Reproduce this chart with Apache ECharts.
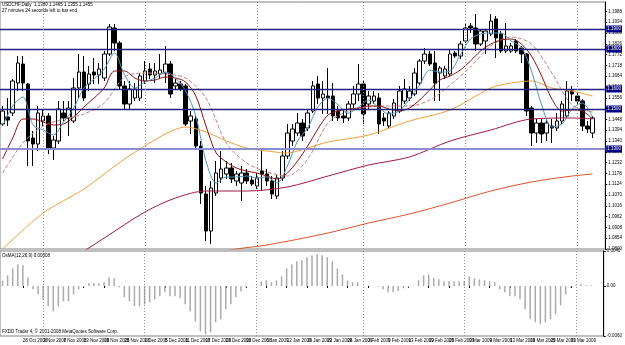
<!DOCTYPE html>
<html>
<head>
<meta charset="utf-8">
<style>
  html, body { margin: 0; padding: 0; background: #fff; }
  #chart { width: 625px; height: 345px; }
</style>
<script src="https://cdn.jsdelivr.net/npm/echarts@6/dist/echarts.min.js"></script>
</head>
<body>
<div id="chart"></div>
<script>
// trading days shown on the chart, month by month
const dayLists = [
  ['Oct 2008', [22, 23, 24, 27, 28, 29, 30, 31]],
  ['Nov 2008', [3, 4, 5, 6, 7, 10, 11, 12, 13, 14, 17, 18, 19, 20, 21, 24, 25, 26, 27, 28]],
  ['Dec 2008', [1, 2, 3, 4, 5, 8, 9, 10, 11, 12, 15, 16, 17, 18, 19, 22, 23, 24, 26, 29, 30, 31]],
  ['Jan 2009', [2, 5, 6, 7, 8, 9, 12, 13, 14, 15, 16, 19, 20, 21, 22, 23, 26, 27, 28, 29, 30]],
  ['Feb 2009', [2, 3, 4, 5, 6, 9, 10, 11, 12, 13, 16, 17, 18, 19, 20, 23, 24, 25, 26, 27]],
  ['Mar 2009', [2, 3, 4, 5, 6, 9, 10, 11, 12, 13, 16, 17, 18, 19, 20, 23, 24, 25, 26, 27, 30, 31]],
  ['Apr 2009', [1, 2, 3, 6]]
];
const monthStarts = ['3 Nov 2008', '1 Dec 2008', '2 Jan 2009', '2 Feb 2009', '2 Mar 2009', '1 Apr 2009'];

// open, close, low, high
const candles = [
  [1.1425, 1.1490, 1.1415, 1.1515], [1.1460, 1.1445, 1.1415, 1.1555], [1.1480, 1.1640, 1.1465, 1.1650],
  [1.1630, 1.1730, 1.1590, 1.1765], [1.1725, 1.1630, 1.1590, 1.1765], [1.1625, 1.1340, 1.1215, 1.1630],
  [1.1355, 1.1325, 1.1215, 1.1390], [1.1325, 1.1480, 1.1290, 1.1515], [1.1440, 1.1465, 1.1415, 1.1500],
  [1.1465, 1.1305, 1.1275, 1.1480], [1.1305, 1.1345, 1.1245, 1.1365], [1.1340, 1.1500, 1.1325, 1.1540],
  [1.1480, 1.1455, 1.1440, 1.1540], [1.1455, 1.1505, 1.1365, 1.1540], [1.1440, 1.1605, 1.1430, 1.1655],
  [1.1605, 1.1685, 1.1555, 1.1775], [1.1685, 1.1555, 1.1540, 1.1765], [1.1625, 1.1675, 1.1590, 1.1715],
  [1.1685, 1.1670, 1.1625, 1.1755], [1.1670, 1.1700, 1.1625, 1.1730], [1.1655, 1.1775, 1.1640, 1.1790],
  [1.1775, 1.1910, 1.1765, 1.1925], [1.1905, 1.1830, 1.1790, 1.1925], [1.1830, 1.1615, 1.1600, 1.1840],
  [1.1615, 1.1525, 1.1500, 1.1640], [1.1525, 1.1600, 1.1500, 1.1640], [1.1555, 1.1600, 1.1540, 1.1630],
  [1.1555, 1.1665, 1.1540, 1.1680], [1.1640, 1.1690, 1.1625, 1.1740], [1.1700, 1.1670, 1.1650, 1.1730],
  [1.1670, 1.1690, 1.1630, 1.1730], [1.1675, 1.1695, 1.1650, 1.1775], [1.1680, 1.1725, 1.1630, 1.1815],
  [1.1725, 1.1575, 1.1555, 1.1740], [1.1615, 1.1630, 1.1600, 1.1650], [1.1625, 1.1600, 1.1590, 1.1640],
  [1.1615, 1.1425, 1.1415, 1.1625], [1.1440, 1.1465, 1.1375, 1.1490], [1.1450, 1.1315, 1.1300, 1.1465],
  [1.1315, 1.1080, 1.1025, 1.1340], [1.1075, 1.0890, 1.0840, 1.1115], [1.0890, 1.1105, 1.0825, 1.1140],
  [1.1080, 1.1180, 1.1065, 1.1240], [1.1155, 1.1200, 1.1130, 1.1290], [1.1175, 1.1205, 1.1150, 1.1240],
  [1.1205, 1.1150, 1.1130, 1.1230], [1.1140, 1.1175, 1.1115, 1.1190], [1.1130, 1.1180, 1.1040, 1.1215],
  [1.1180, 1.1140, 1.1125, 1.1200], [1.1145, 1.1125, 1.1115, 1.1165], [1.1115, 1.1155, 1.1100, 1.1180],
  [1.1190, 1.1175, 1.1090, 1.1305], [1.1175, 1.1140, 1.1115, 1.1200], [1.1140, 1.1075, 1.1050, 1.1165],
  [1.1065, 1.1155, 1.1050, 1.1175], [1.1155, 1.1265, 1.1140, 1.1290], [1.1265, 1.1380, 1.1250, 1.1425],
  [1.1340, 1.1400, 1.1315, 1.1425], [1.1380, 1.1430, 1.1365, 1.1480], [1.1430, 1.1365, 1.1340, 1.1450],
  [1.1405, 1.1480, 1.1390, 1.1500], [1.1490, 1.1615, 1.1480, 1.1640], [1.1625, 1.1555, 1.1525, 1.1665],
  [1.1555, 1.1575, 1.1475, 1.1640], [1.1565, 1.1555, 1.1475, 1.1705], [1.1565, 1.1465, 1.1440, 1.1630],
  [1.1490, 1.1455, 1.1440, 1.1515], [1.1465, 1.1455, 1.1430, 1.1500], [1.1455, 1.1525, 1.1440, 1.1540],
  [1.1525, 1.1575, 1.1505, 1.1615], [1.1575, 1.1625, 1.1540, 1.1725], [1.1625, 1.1475, 1.1425, 1.1640],
  [1.1525, 1.1565, 1.1500, 1.1590], [1.1540, 1.1565, 1.1525, 1.1590], [1.1555, 1.1425, 1.1375, 1.1580],
  [1.1455, 1.1440, 1.1415, 1.1480], [1.1415, 1.1480, 1.1400, 1.1490], [1.1465, 1.1530, 1.1450, 1.1550],
  [1.1490, 1.1590, 1.1480, 1.1615], [1.1540, 1.1600, 1.1525, 1.1650], [1.1555, 1.1590, 1.1540, 1.1615],
  [1.1575, 1.1680, 1.1565, 1.1705], [1.1630, 1.1740, 1.1620, 1.1750], [1.1740, 1.1775, 1.1725, 1.1805],
  [1.1775, 1.1725, 1.1715, 1.1790], [1.1730, 1.1630, 1.1540, 1.1790], [1.1680, 1.1705, 1.1540, 1.1715],
  [1.1665, 1.1700, 1.1650, 1.1715], [1.1675, 1.1775, 1.1665, 1.1800], [1.1780, 1.1765, 1.1755, 1.1790],
  [1.1765, 1.1825, 1.1750, 1.1840], [1.1840, 1.1905, 1.1830, 1.1925], [1.1915, 1.1905, 1.1880, 1.1930],
  [1.1905, 1.1825, 1.1790, 1.1975], [1.1825, 1.1890, 1.1815, 1.1900], [1.1840, 1.1890, 1.1775, 1.1900],
  [1.1875, 1.1940, 1.1865, 1.1975], [1.1950, 1.1855, 1.1755, 1.1965], [1.1875, 1.1790, 1.1780, 1.1890],
  [1.1790, 1.1815, 1.1780, 1.1930], [1.1790, 1.1815, 1.1780, 1.1830], [1.1840, 1.1790, 1.1780, 1.1850],
  [1.1805, 1.1775, 1.1730, 1.1815], [1.1775, 1.1490, 1.1465, 1.1780], [1.1505, 1.1380, 1.1315, 1.1515],
  [1.1380, 1.1430, 1.1330, 1.1450], [1.1430, 1.1375, 1.1330, 1.1450], [1.1380, 1.1430, 1.1340, 1.1450],
  [1.1415, 1.1405, 1.1330, 1.1450], [1.1405, 1.1440, 1.1390, 1.1480], [1.1440, 1.1525, 1.1425, 1.1540],
  [1.1465, 1.1590, 1.1455, 1.1640], [1.1590, 1.1575, 1.1540, 1.1615], [1.1565, 1.1540, 1.1525, 1.1580],
  [1.1540, 1.1415, 1.1390, 1.1550], [1.1415, 1.1400, 1.1380, 1.1440], [1.1380, 1.1455, 1.1355, 1.1465]
];

// moving averages: [bar index, price]
const maFast = [
  [0, 1.1415], [2, 1.1515], [4, 1.1560], [6, 1.1420], [8, 1.1395], [10, 1.1370], [12, 1.1435],
  [14, 1.1505], [16, 1.1605], [18, 1.1650], [20, 1.1700], [22, 1.1780], [24, 1.1670], [26, 1.1605],
  [28, 1.1635], [30, 1.1655], [32, 1.1685], [34, 1.1655], [36, 1.1590], [38, 1.1465], [40, 1.1240],
  [42, 1.1130], [44, 1.1160], [46, 1.1160], [48, 1.1165], [50, 1.1155], [52, 1.1160], [54, 1.1130],
  [56, 1.1215], [58, 1.1340], [60, 1.1405], [62, 1.1510], [64, 1.1555], [66, 1.1520], [68, 1.1480],
  [70, 1.1510], [72, 1.1545], [74, 1.1505], [76, 1.1475], [78, 1.1490], [80, 1.1550], [82, 1.1620],
  [84, 1.1695], [86, 1.1685], [88, 1.1690], [90, 1.1770], [92, 1.1850], [94, 1.1875], [96, 1.1880],
  [98, 1.1880], [100, 1.1840], [102, 1.1810], [104, 1.1690], [106, 1.1520], [108, 1.1410],
  [110, 1.1425], [112, 1.1500], [114, 1.1530], [116, 1.1460]
];
const maMid = [
  [0, 1.1250], [2, 1.1355], [4, 1.1450], [6, 1.1450], [8, 1.1435], [10, 1.1420], [12, 1.1425],
  [14, 1.1460], [16, 1.1510], [18, 1.1555], [20, 1.1605], [22, 1.1690], [24, 1.1690], [26, 1.1655],
  [28, 1.1640], [30, 1.1645], [32, 1.1660], [34, 1.1655], [36, 1.1635], [38, 1.1565], [40, 1.1415],
  [42, 1.1280], [44, 1.1235], [46, 1.1205], [48, 1.1190], [50, 1.1180], [52, 1.1165], [54, 1.1150],
  [56, 1.1180], [58, 1.1240], [60, 1.1315], [62, 1.1400], [64, 1.1470], [66, 1.1490], [68, 1.1500],
  [70, 1.1505], [72, 1.1515], [74, 1.1515], [76, 1.1500], [78, 1.1490], [80, 1.1505], [82, 1.1545],
  [84, 1.1595], [86, 1.1645], [88, 1.1665], [90, 1.1695], [92, 1.1740], [94, 1.1790], [96, 1.1825],
  [98, 1.1845], [100, 1.1850], [102, 1.1825], [104, 1.1765], [106, 1.1665], [108, 1.1550],
  [110, 1.1490], [112, 1.1495], [114, 1.1490], [116, 1.1450]
];
const maSlow = [
  [0, 1.1180], [4, 1.1330], [8, 1.1415], [12, 1.1450], [16, 1.1475], [20, 1.1530], [24, 1.1660],
  [28, 1.1680], [32, 1.1675], [36, 1.1655], [40, 1.1555], [44, 1.1330], [48, 1.1230], [52, 1.1185],
  [56, 1.1165], [60, 1.1250], [64, 1.1430], [68, 1.1490], [72, 1.1510], [76, 1.1515], [80, 1.1515],
  [84, 1.1545], [88, 1.1620], [92, 1.1710], [96, 1.1815], [100, 1.1860], [104, 1.1825], [108, 1.1680],
  [112, 1.1520], [116, 1.1485]
];
const ma50 = [
  [0, 1.0800], [8, 1.0980], [16, 1.1100], [24, 1.1250], [32, 1.1375], [36, 1.1410], [40, 1.1385],
  [44, 1.1340], [48, 1.1305], [52, 1.1290], [56, 1.1280], [60, 1.1305], [64, 1.1335], [72, 1.1370],
  [80, 1.1440], [88, 1.1495], [96, 1.1605], [100, 1.1630], [104, 1.1640], [108, 1.1605],
  [112, 1.1590], [116, 1.1565]
];
const ma100 = [
  [14, 1.0765], [16, 1.0790], [20, 1.0855], [28, 1.0985], [34, 1.1055], [40, 1.1090], [48, 1.1090],
  [56, 1.1110], [64, 1.1165], [72, 1.1220], [80, 1.1260], [88, 1.1340], [96, 1.1395], [104, 1.1450],
  [112, 1.1455], [116, 1.1450]
];
const ma200 = [
  [40, 1.0770], [46, 1.0800], [52, 1.0820], [64, 1.0880], [72, 1.0930], [80, 1.0975], [88, 1.1030],
  [96, 1.1090], [104, 1.1135], [112, 1.1165], [116, 1.1175]
];

// horizontal levels drawn on the chart
const levels = [1.1880, 1.1780, 1.1625, 1.1450];
const lowLevel = 1.1340;

// OsMA(12,26,9) histogram
const osma = [
  0.00064, 0.00128, 0.00212, 0.00260, 0.00248, 0.00104, -0.00040, -0.00100, -0.00160, -0.00244,
  -0.00304, -0.00244, -0.00184, -0.00184, -0.00100, -0.00040, -0.00010, 0.00032, 0.00032, 0.00032,
  0.00044, 0.00104, 0.00092, -0.00016, -0.00136, -0.00184, -0.00244, -0.00244, -0.00220, -0.00196,
  -0.00160, -0.00124, -0.00076, -0.00124, -0.00124, -0.00148, -0.00220, -0.00304, -0.00424, -0.00544,
  -0.00580, -0.00556, -0.00436, -0.00400, -0.00280, -0.00220, -0.00136, -0.00064, -0.00016, -0.00006,
  0.00002, 0.00056, 0.00068, 0.00044, 0.00068, 0.00116, 0.00212, 0.00260, 0.00296, 0.00308,
  0.00344, 0.00366, 0.00380, 0.00368, 0.00344, 0.00296, 0.00212, 0.00140, 0.00068, 0.00044,
  0.00044, 0.00004, 0.00004, 0.00002, -0.00010, -0.00040, -0.00076, -0.00076, -0.00064, -0.00028,
  -0.00016, 0.00004, 0.00068, 0.00128, 0.00140, 0.00092, 0.00080, 0.00056, 0.00056, 0.00056,
  0.00056, 0.00056, 0.00116, 0.00092, 0.00080, 0.00068, 0.00056, 0.00044, -0.00040, -0.00076,
  -0.00124, -0.00124, -0.00160, -0.00280, -0.00400, -0.00436, -0.00460, -0.00436, -0.00400, -0.00340,
  -0.00232, -0.00100, -0.00016, 0.00010, 0.00020, 0.00008, 0.00008
];
const osmaTicks = [0.0042, 0, -0.0060];

const dates = [];
dayLists.forEach(([month, days]) => days.forEach(d => dates.push(d + ' ' + month)));
const categories = dates.concat(['', '']);   // chart shift on the right

const tiny = { fontFamily: 'Liberation Sans', fontSize: 4.5, color: '#000' };

const chart = echarts.init(document.getElementById('chart'));

function maLine(name, data, color, type) {
  return {
    name: name, type: 'line', data: data, xAxisIndex: 0, yAxisIndex: 0,
    connectNulls: true, smooth: 0.3, symbol: 'none', silent: true,
    lineStyle: { color: color, width: 1, type: type || 'solid' }
  };
}

function separators() {
  return {
    symbol: ['none', 'none'], silent: true, label: { show: false },
    lineStyle: { color: '#8a8a8a', width: 1, type: [1, 2] },
    data: monthStarts.map(d => ({ xAxis: d }))
  };
}

const levelLabel = {
  show: true, position: 'end', distance: 1, formatter: p => p.value.toFixed(4),
  backgroundColor: '#000080', color: '#fff', padding: [1, 1],
  fontFamily: 'Liberation Sans', fontSize: 4.5
};

chart.setOption({
  animation: false,
  backgroundColor: '#fff',
  grid: [
    { left: 0, top: 2, width: 611, height: 247, show: true, borderColor: '#808080', borderWidth: 1 },
    { left: 0, top: 251, width: 611, height: 85, show: true, borderColor: '#808080', borderWidth: 1 }
  ],
  xAxis: [
    {
      type: 'category', gridIndex: 0, data: categories, boundaryGap: true,
      axisLine: { show: false }, axisTick: { show: false }, axisLabel: { show: false },
      splitLine: { show: false }
    },
    {
      type: 'category', gridIndex: 1, data: categories, boundaryGap: true,
      axisLine: { show: false },
      axisTick: { show: true, interval: 3, length: 2, alignWithLabel: true, lineStyle: { color: '#000' } },
      axisLabel: Object.assign({ interval: 3, margin: 2, align: 'left' }, tiny),
      splitLine: { show: false }
    }
  ],
  yAxis: [
    {
      type: 'value', gridIndex: 0, position: 'right', min: 1.0800, max: 1.2035, interval: 0.0054,
      axisLine: { show: true, lineStyle: { color: '#000' } },
      axisTick: { show: true, length: 2, lineStyle: { color: '#000' } },
      axisLabel: Object.assign({ margin: 3, showMaxLabel: false, formatter: v => v.toFixed(4) }, tiny),
      splitLine: { show: false }
    },
    {
      type: 'value', gridIndex: 1, position: 'right', min: -0.0060, max: 0.0042,
      axisLine: { show: true, lineStyle: { color: '#000' } },
      axisTick: { show: true, length: 2, customValues: osmaTicks, lineStyle: { color: '#000' } },
      axisLabel: Object.assign({ margin: 3, customValues: osmaTicks,
        formatter: v => v === 0 ? '0.00' : v.toFixed(4) }, tiny),
      splitLine: { show: false }
    }
  ],
  series: [
    maLine('MA 200', ma200, '#d9542b'),
    maLine('MA 100', ma100, '#a0194a'),
    maLine('MA 50', ma50, '#eda03c'),
    maLine('MA slow', maSlow, '#c98080', 'dashed'),
    maLine('MA mid', maMid, '#8b1010'),
    maLine('MA fast', maFast, '#4f96bd'),
    {
      name: 'USDCHF', type: 'candlestick', xAxisIndex: 0, yAxisIndex: 0,
      data: candles, barWidth: 4, silent: true,
      itemStyle: { color: '#fff', color0: '#000', borderColor: '#000', borderColor0: '#000', borderWidth: 1 },
      markLine: {
        symbol: ['none', 'none'], silent: true, animation: false,
        data: levels.map(v => ({ yAxis: v, lineStyle: { color: '#22227e', width: 1.3, type: 'solid' }, label: levelLabel }))
          .concat([{ yAxis: lowLevel, lineStyle: { color: '#8c8cd0', width: 2, type: 'solid' }, label: levelLabel }])
      }
    },
    {
      name: 'separators', type: 'line', xAxisIndex: 0, yAxisIndex: 0, data: [],
      markLine: separators()
    },
    {
      name: 'OsMA', type: 'bar', xAxisIndex: 1, yAxisIndex: 1, data: osma,
      barWidth: 1.5, silent: true, itemStyle: { color: '#ababab' },
      markLine: separators()
    }
  ],
  graphic: [
    { type: 'text', left: 2, top: 2, silent: true,
      style: Object.assign({ text: 'USDCHF,Daily  1.1380 1.1465 1.1355 1.1455' }, tiny) },
    { type: 'text', left: 2, top: 8, silent: true,
      style: Object.assign({ text: '27 minutes 24 seconds left to bar end' }, tiny) },
    { type: 'text', left: 2, top: 253, silent: true,
      style: Object.assign({ text: 'OsMA(12,26,9) 0.00008' }, tiny) },
    { type: 'text', left: 2, top: 329, silent: true,
      style: Object.assign({ text: 'FXDD Trader 4, \u00a9 2001-2008 MetaQuotes Software Corp.' }, tiny) }
  ]
});
</script>
</body>
</html>
